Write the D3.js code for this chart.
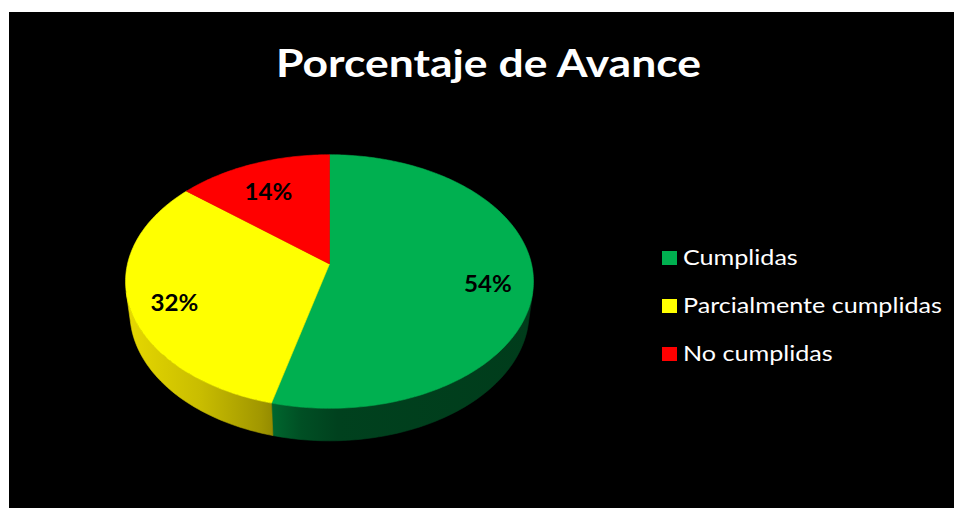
<!DOCTYPE html>
<html>
<head>
<meta charset="utf-8">
<script src="https://cdn.jsdelivr.net/npm/d3@7"></script>
<style>
  html, body { margin: 0; padding: 0; background: #ffffff; }
  svg { display: block; }
</style>
</head>
<body>
<svg id="chart" width="954" height="508"></svg>
<script>
// ---- data ----
const title = "Porcentaje de Avance";
const categories = ["Cumplidas", "Parcialmente cumplidas", "No cumplidas"];
const values = [54, 32, 14];
const colors = ["#00B050", "#FFFF00", "#FF0000"];

// ---- layout ----
const W = 954, H = 508;
const FONT = "Lato, 'Open Sans', sans-serif";
const stretchX = 1.17;   // source picture is slightly wider than tall
const svg = d3.select("#chart");

svg.append("rect")
  .attr("x", 9).attr("y", 12)
  .attr("width", W - 9).attr("height", H - 12)
  .attr("fill", "#000000");

svg.append("text")
  .attr("transform", `translate(488.5,77) scale(${stretchX},1)`)
  .attr("text-anchor", "middle")
  .attr("font-family", FONT)
  .attr("font-weight", "bold")
  .attr("font-size", 38)
  .attr("fill", "#ffffff")
  .text(title);

// ---- 3D perspective projection of the pie ----
const cx = 329.5, cy = 264;
const Rpx = 202;             // radius scale (px at unit depth)
const L = 5.7;               // camera distance (in radii)
const theta = 38 * Math.PI / 180;  // elevation
const depthH = 0.2;          // slab thickness (in radii)
const k = Rpx * L;
const sinT = Math.sin(theta), cosT = Math.cos(theta);

function project(phi, r, y) {
  const x = r * Math.sin(phi);
  const z = -r * Math.cos(phi);
  const d = L - y * sinT - z * cosT;
  return [cx + k * x / d, cy + k * (z * sinT - y * cosT) / d];
}

// visible front wall: cos(phi) < -1/(L cos theta)
const cLim = -1 / (L * cosT);
const phiA = Math.acos(cLim);
const phiB = 2 * Math.PI - phiA;

const pie = d3.pie().sort(null).value(d => d)
  .startAngle(0).endAngle(2 * Math.PI);
const arcs = pie(values);

const line = d3.line();
function samples(a0, a1) {
  const n = Math.max(2, Math.ceil((a1 - a0) / (Math.PI / 180)));
  return d3.range(n + 1).map(i => a0 + (a1 - a0) * i / n);
}

// gradients for side walls (lighting from the left)
const defs = svg.append("defs");
const shadeStops = [
  [0.00, 0.90], [0.18, 0.79], [0.33, 0.63], [0.36, 0.58],
  [0.43, 0.45], [0.52, 0.37], [1.00, 0.34]
];
arcs.forEach((a, i) => {
  const g = defs.append("linearGradient")
    .attr("id", "side" + i)
    .attr("gradientUnits", "userSpaceOnUse")
    .attr("x1", cx - Rpx).attr("x2", cx + Rpx)
    .attr("y1", 0).attr("y2", 0);
  shadeStops.forEach(([o, f]) => {
    const c = d3.rgb(colors[i]);
    const col = d3.rgb(c.r * f, c.g * f * (i === 1 ? 0.94 : 1), c.b * f);
    g.append("stop").attr("offset", o).attr("stop-color", col.formatHex());
  });
});

const pieG = svg.append("g");

// side walls
arcs.forEach((a, i) => {
  const s0 = Math.max(a.startAngle, phiA);
  const s1 = Math.min(a.endAngle, phiB);
  if (s1 <= s0) return;
  const ang = samples(s0, s1);
  const top = ang.map(p => project(p, 1, 0));
  const bot = ang.slice().reverse().map(p => project(p, 1, -depthH));
  pieG.append("path")
    .attr("d", line(top.concat(bot)) + "Z")
    .attr("fill", "url(#side" + i + ")")
    .attr("stroke", "url(#side" + i + ")")
    .attr("stroke-width", 0.6);
});

// top faces
arcs.forEach((a, i) => {
  const ang = samples(a.startAngle, a.endAngle);
  const pts = [project(0, 0, 0)].concat(ang.map(p => project(p, 1, 0)));
  pieG.append("path")
    .attr("d", line(pts) + "Z")
    .attr("fill", colors[i])
    .attr("stroke", colors[i])
    .attr("stroke-width", 0.6);
});

// data labels
const total = d3.sum(values);
arcs.forEach((a, i) => {
  const mid = (a.startAngle + a.endAngle) / 2;
  const [lx, ly] = project(mid, 0.78, 0);
  svg.append("text")
    .attr("transform", `translate(${lx},${ly + 7}) scale(1.05,1)`)
    .attr("text-anchor", "middle")
    .attr("dominant-baseline", "central")
    .attr("font-family", FONT)
    .attr("font-weight", "bold")
    .attr("font-size", 23)
    .attr("fill", "#000000")
    .text(Math.round(values[i] / total * 100) + "%");
});

// legend
const legend = svg.append("g").attr("transform", "translate(662,258)");
categories.forEach((c, i) => {
  const row = legend.append("g").attr("transform", `translate(0,${i * 48})`);
  row.append("rect")
    .attr("x", 0).attr("y", -7)
    .attr("width", 15).attr("height", 14)
    .attr("fill", colors[i]);
  row.append("text")
    .attr("transform", `translate(21,7) scale(${stretchX},1)`)
    .attr("font-family", FONT)
    .attr("font-size", 21.5)
    .attr("fill", "#ffffff")
    .text(c);
});
</script>
</body>
</html>
